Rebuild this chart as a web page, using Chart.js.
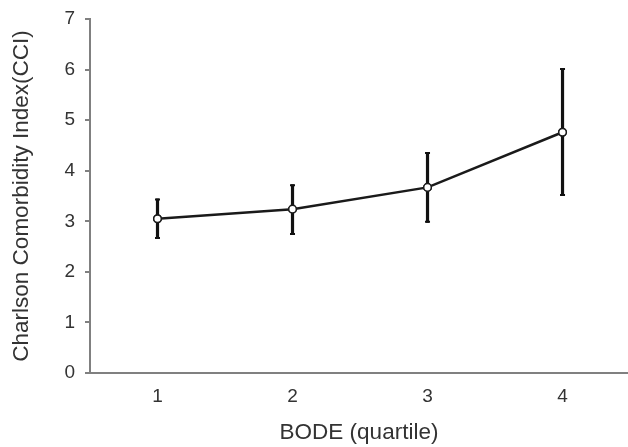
<!DOCTYPE html>
<html>
<head>
<meta charset="utf-8">
<script src="https://cdn.jsdelivr.net/npm/chart.js@4.4.1/dist/chart.umd.min.js"></script>
<style>
  html, body { margin: 0; padding: 0; background: #fff; }
  #wrap { width: 628px; height: 447px; }
</style>
</head>
<body>
<div id="wrap"><canvas id="chart"></canvas></div>
<script>
const quartiles = [1, 2, 3, 4];
const cciMean = [3.05, 3.24, 3.67, 4.76];
const cciLow = [2.65, 2.73, 2.97, 3.50];
const cciHigh = [3.45, 3.73, 4.37, 6.03];
const yTicks = [0, 1, 2, 3, 4, 5, 6, 7];

// vertical error bars drawn through the chart scales
const errorBars = {
  id: 'errorBars',
  afterDatasetsDraw(chart) {
    const { ctx, scales: { x, y } } = chart;
    ctx.save();
    ctx.strokeStyle = '#111';
    ctx.lineCap = 'butt';
    quartiles.forEach((q, i) => {
      const px = x.getPixelForValue(q);
      const top = y.getPixelForValue(cciHigh[i]);
      const bot = y.getPixelForValue(cciLow[i]);
      ctx.lineWidth = 3.2;
      ctx.beginPath();
      ctx.moveTo(px, top);
      ctx.lineTo(px, bot);
      ctx.stroke();
      ctx.lineWidth = 2;
      ctx.beginPath();
      ctx.moveTo(px - 2.5, top + 1);
      ctx.lineTo(px + 2.5, top + 1);
      ctx.moveTo(px - 2.5, bot - 1);
      ctx.lineTo(px + 2.5, bot - 1);
      ctx.stroke();
    });
    ctx.restore();
    // redraw points on top of the bars
    chart.getDatasetMeta(0).data.forEach(pt => pt.draw(ctx, chart.chartArea));
  }
};

new Chart(document.getElementById('chart'), {
  type: 'line',
  data: {
    datasets: [{
      data: quartiles.map((q, i) => ({ x: q, y: cciMean[i] })),
      borderColor: '#1a1a1a',
      borderWidth: 2.5,
      pointRadius: 3.8,
      pointBackgroundColor: '#fff',
      pointBorderColor: '#1a1a1a',
      pointBorderWidth: 1.5,
      tension: 0
    }]
  },
  options: {
    responsive: true,
    maintainAspectRatio: false,
    animation: false,
    layout: { padding: { top: 19, right: 0, bottom: 0, left: 0 }, autoPadding: false },
    plugins: { legend: { display: false }, tooltip: { enabled: false } },
    scales: {
      x: {
        type: 'linear',
        min: 0.5,
        max: 4.485,
        afterBuildTicks: s => { s.ticks = quartiles.map(v => ({ value: v })); },
        afterFit: s => { s.height = 74; s.paddingLeft = 0; s.paddingRight = 0; },
        grid: { display: false, drawTicks: false },
        border: { display: true, color: '#808080', width: 2 },
        ticks: {
          padding: 12.5,
          color: '#333',
          font: { family: 'Liberation Sans, Arial', size: 19 }
        },
        title: {
          display: true,
          text: 'BODE (quartile)',
          color: '#333',
          padding: { top: 0, bottom: 0.5 },
          font: { family: 'Liberation Sans, Arial', size: 22.5 }
        }
      },
      y: {
        min: 0,
        max: 7,
        afterBuildTicks: s => { s.ticks = yTicks.map(v => ({ value: v })); },
        afterFit: s => { s.width = 90; s.paddingTop = 0; s.paddingBottom = 0; },
        grid: { drawOnChartArea: false, drawTicks: true, tickLength: 5, color: '#808080', lineWidth: 2 },
        border: { display: true, color: '#808080', width: 2 },
        ticks: {
          padding: 10,
          color: '#333',
          font: { family: 'Liberation Sans, Arial', size: 19 }
        },
        title: {
          display: true,
          text: 'Charlson Comorbidity Index(CCI)',
          color: '#333',
          padding: { top: 8.5, bottom: 0 },
          font: { family: 'Liberation Sans, Arial', size: 22.5 }
        }
      }
    }
  },
  plugins: [errorBars]
});
</script>
</body>
</html>
